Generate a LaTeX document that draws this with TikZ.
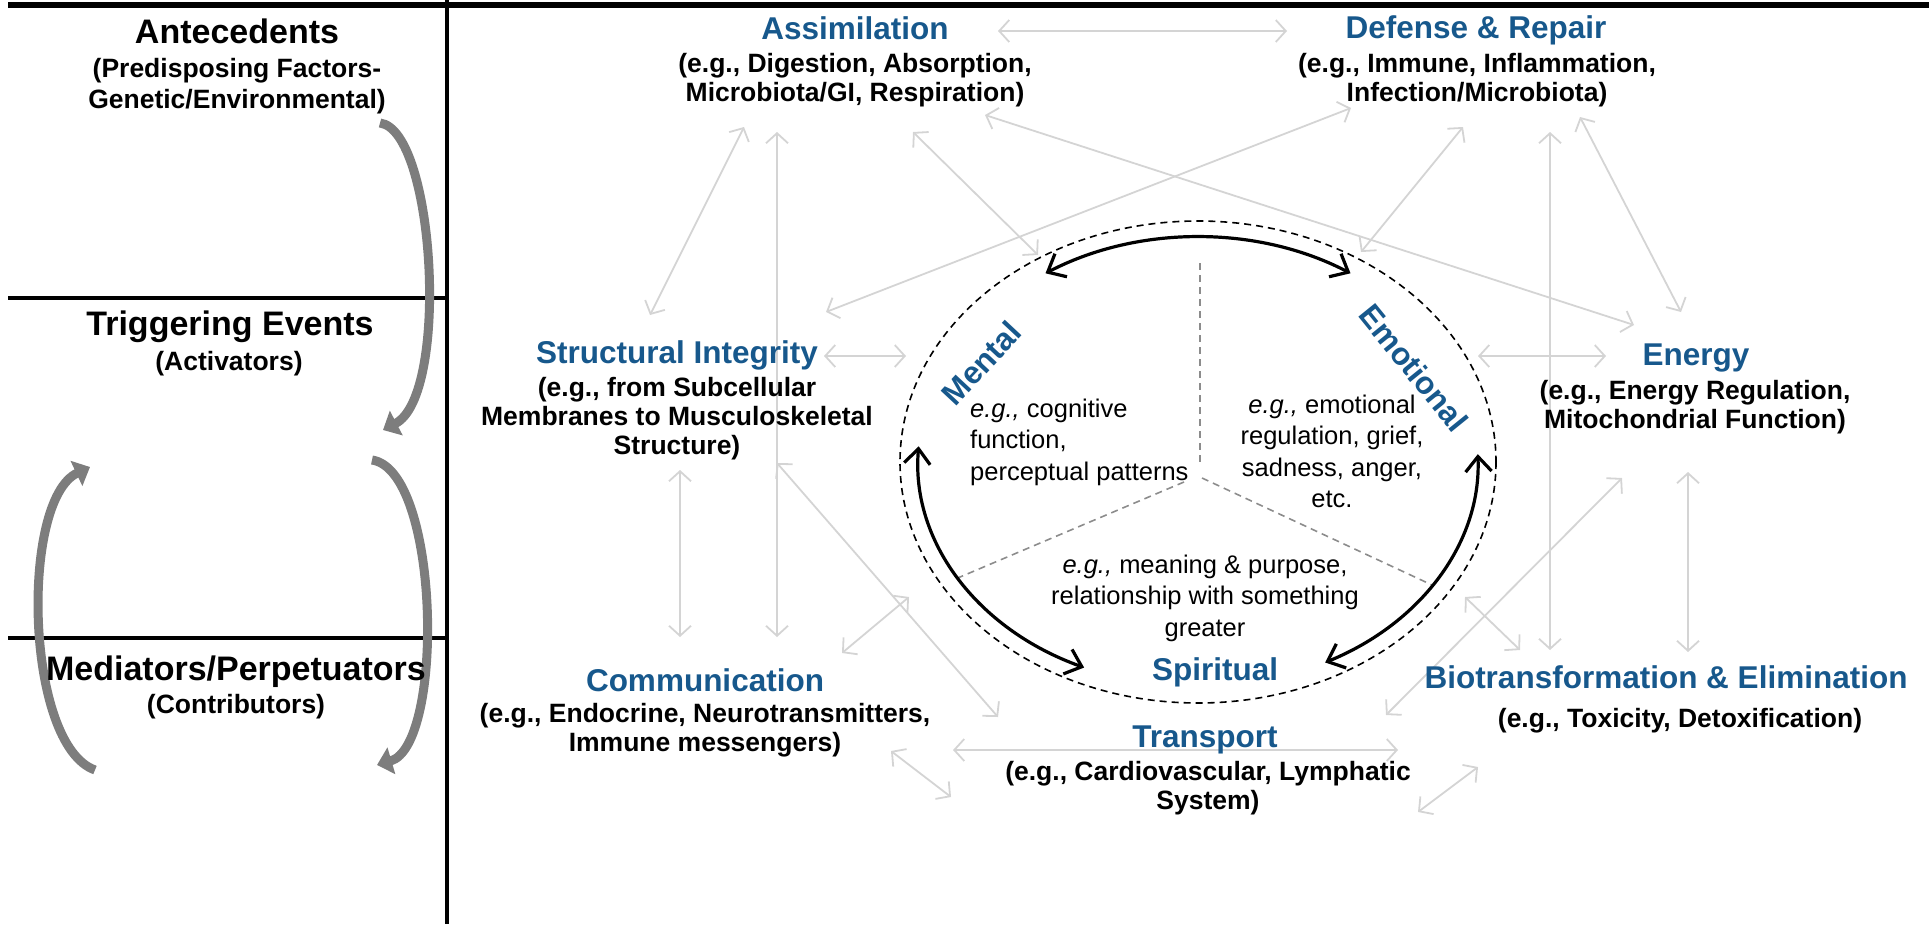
\documentclass[tikz,border=0pt]{standalone}
\usepackage{fontspec}
\setmainfont{Liberation Sans}
\usetikzlibrary{arrows.meta}
\definecolor{hblue}{RGB}{23,88,140}
\definecolor{conncol}{RGB}{212,212,212}
\definecolor{bandgray}{RGB}{125,125,125}
\definecolor{banddark}{RGB}{88,88,88}
\definecolor{divgray}{RGB}{140,140,140}
\tikzset{
  lefttitle/.style={font=\fontsize{34}{39}\selectfont\bfseries, anchor=base, inner sep=0pt},
  leftsub/.style={font=\fontsize{26.5}{31}\selectfont\bfseries, anchor=base, inner sep=0pt},
  systitle/.style={font=\fontsize{31.5}{36}\selectfont\bfseries, text=hblue, anchor=base, inner sep=0pt},
  syssub/.style={font=\fontsize{26.5}{29}\selectfont\bfseries, anchor=base, inner sep=0pt},
  dimtitle/.style={font=\fontsize{31.5}{36}\selectfont\bfseries, text=hblue, inner sep=0pt},
  dimtext/.style={font=\fontsize{25.5}{31.5}\selectfont, inner sep=0pt},
  linkarrow/.style={draw=conncol, line width=1.8pt, {Straight Barb[length=10pt,width=22pt]}-{Straight Barb[length=10pt,width=22pt]}},
  bandarrow/.style={draw=bandgray, line width=9pt, -{Triangle[length=15pt,width=27pt]}},
  bandcore/.style={draw=banddark, line width=2.5pt},
  cyclearrow/.style={draw=black, line width=3.2pt, {Straight Barb[length=15pt,width=26pt]}-{Straight Barb[length=15pt,width=26pt]}},
  rulestroke/.style={draw=black, line width=3.5pt},
  divline/.style={draw=divgray, line width=1.6pt, dash pattern=on 7pt off 5pt},
}
\begin{document}
\begin{tikzpicture}[x=1pt,y=-1pt]
\useasboundingbox (0,0) rectangle (1929,924);

% ---------- frame rules ----------
\coordinate (topL) at (8,5); \coordinate (topR) at (1929,5);
\coordinate (vTop) at (447,0); \coordinate (vBot) at (447,924);
\coordinate (h1L) at (8,298); \coordinate (h1R) at (447,298);
\coordinate (h2L) at (8,638); \coordinate (h2R) at (447,638);
\draw[rulestroke] (vTop) -- (vBot);
\draw[rulestroke] (h1L) -- (h1R);
\draw[rulestroke] (h2L) -- (h2R);
\draw[draw=black, line width=6pt] (topL) -- (topR);

% ---------- left band arrow end points ----------
\coordinate (b1s) at (380,123); \coordinate (b1e) at (383,430);
\coordinate (b2s) at (95,770);  \coordinate (b2e) at (90,467);
\coordinate (b3s) at (372,460); \coordinate (b3e) at (377,765);

% ---------- grey connector end points ----------
\coordinate (c1a) at (998,31);   \coordinate (c1b) at (1287,31);
\coordinate (c2a) at (744,127);  \coordinate (c2b) at (650,315);
\coordinate (c3a) at (777,132);  \coordinate (c3b) at (777,637);
\coordinate (c4a) at (913,132);  \coordinate (c4b) at (1038,255);
\coordinate (c5a) at (985,115);  \coordinate (c5b) at (1634,325);
\coordinate (c6a) at (826,312);  \coordinate (c6b) at (1351,108);
\coordinate (c7a) at (824,356);  \coordinate (c7b) at (906,356);
\coordinate (c8a) at (1463,127); \coordinate (c8b) at (1361,252);
\coordinate (c9a) at (1550,132); \coordinate (c9b) at (1550,650);
\coordinate (c10a) at (1580,117); \coordinate (c10b) at (1681,312);
\coordinate (c11a) at (1478,356); \coordinate (c11b) at (1606,356);
\coordinate (c12a) at (680,470);  \coordinate (c12b) at (680,637);
\coordinate (c13a) at (777,463);  \coordinate (c13b) at (998,717);
\coordinate (c14a) at (842,653);  \coordinate (c14b) at (909,597);
\coordinate (c15a) at (891,751);  \coordinate (c15b) at (951,797);
\coordinate (c16a) at (953,750);  \coordinate (c16b) at (1398,750);
\coordinate (c17a) at (1465,597); \coordinate (c17b) at (1520,650);
\coordinate (c18a) at (1622,478); \coordinate (c18b) at (1386,715);
\coordinate (c19a) at (1688,472); \coordinate (c19b) at (1688,652);
\coordinate (c20a) at (1418,812); \coordinate (c20b) at (1478,767);

\foreach \i in {1,...,20} { \draw[linkarrow] (c\i a) -- (c\i b); }

% ---------- centre circle ----------
\coordinate (cc) at (1198,462);
\draw[draw=black, line width=1.6pt, dash pattern=on 7pt off 5pt] (cc) ellipse [x radius=298, y radius=241];
\coordinate (dvt) at (1200,263); \coordinate (dvb) at (1200,462);
\coordinate (dls) at (1184,482); \coordinate (dle) at (953,580);
\coordinate (drs) at (1202,478); \coordinate (dre) at (1432,585);
\draw[divline] (dvt) -- (dvb);
\draw[divline] (dls) -- (dle);
\draw[divline] (drs) -- (dre);

\draw[cyclearrow] (cc) ++(237:280 and 225) arc[start angle=237, end angle=303, x radius=280, y radius=225];
\draw[cyclearrow] (cc) ++(184:280 and 225) arc[start angle=184, end angle=114, x radius=280, y radius=225];
\draw[cyclearrow] (cc) ++(-2:280 and 225) arc[start angle=-2, end angle=63, x radius=280, y radius=225];

% band arrows
\draw[bandarrow] (b1s) .. controls (435,130) and (450,395) .. (b1e);
\draw[bandarrow] (b2s) .. controls (25,745) and (20,500) .. (b2e);
\draw[bandarrow] (b3s) .. controls (440,470) and (445,745) .. (b3e);

% ---------- left column text ----------
\node[lefttitle] (antT) at (237,43) {Antecedents};
\node[leftsub] (antS) at (237,77) {\begin{tabular}[t]{@{}c@{}}(Predisposing Factors-\\Genetic/Environmental)\end{tabular}};
\node[lefttitle] (trgT) at (230,335) {Triggering Events};
\node[leftsub] (trgS) at (229,370) {(Activators)};
\node[lefttitle] (medT) at (236,680) {Mediators/Perpetuators};
\node[leftsub] (medS) at (236,713) {(Contributors)};

% ---------- system nodes ----------
\node[systitle] (asT) at (855,39) {Assimilation};
\node[syssub] (asS) at (855,72) {\begin{tabular}[t]{@{}c@{}}(e.g., Digestion, Absorption,\\Microbiota/GI, Respiration)\end{tabular}};
\node[systitle] (dfT) at (1476,38) {Defense \& Repair};
\node[syssub] (dfS) at (1477,72) {\begin{tabular}[t]{@{}c@{}}(e.g., Immune, Inflammation,\\Infection/Microbiota)\end{tabular}};
\node[systitle] (stT) at (677,363) {Structural Integrity};
\node[syssub] (stS) at (677,396) {\begin{tabular}[t]{@{}c@{}}(e.g., from Subcellular\\Membranes to Musculoskeletal\\Structure)\end{tabular}};
\node[systitle] (enT) at (1696,365) {Energy};
\node[syssub] (enS) at (1695,399) {\begin{tabular}[t]{@{}c@{}}(e.g., Energy Regulation,\\Mitochondrial Function)\end{tabular}};
\node[systitle] (coT) at (705,691) {Communication};
\node[syssub] (coS) at (705,722) {\begin{tabular}[t]{@{}c@{}}(e.g., Endocrine, Neurotransmitters,\\Immune messengers)\end{tabular}};
\node[systitle] (biT) at (1666,688) {Biotransformation \& Elimination};
\node[syssub] (biS) at (1680,727) {(e.g., Toxicity, Detoxification)};
\node[systitle] (trT) at (1205,747) {Transport};
\node[syssub] (trS) at (1208,780) {\begin{tabular}[t]{@{}c@{}}(e.g., Cardiovascular, Lymphatic\\System)\end{tabular}};

% ---------- circle text ----------
\node[dimtitle, rotate=47] (menL) at (981,363) {Mental};
\node[dimtitle, rotate=-51] (emoL) at (1414,368) {Emotional};
\node[dimtitle, anchor=base] (spiL) at (1215,680) {Spiritual};
\node[dimtext, anchor=base west] (menX) at (970,417) {\begin{tabular}[t]{@{}l@{}}\textit{e.g.,} cognitive\\function,\\perceptual patterns\end{tabular}};
\node[dimtext, anchor=base] (emoX) at (1332,413) {\begin{tabular}[t]{@{}c@{}}\textit{e.g.,} emotional\\regulation, grief,\\sadness, anger,\\etc.\end{tabular}};
\node[dimtext, anchor=base] (spiX) at (1205,573) {\begin{tabular}[t]{@{}c@{}}\textit{e.g.,} meaning \& purpose,\\relationship with something\\greater\end{tabular}};
\end{tikzpicture}
\end{document}
